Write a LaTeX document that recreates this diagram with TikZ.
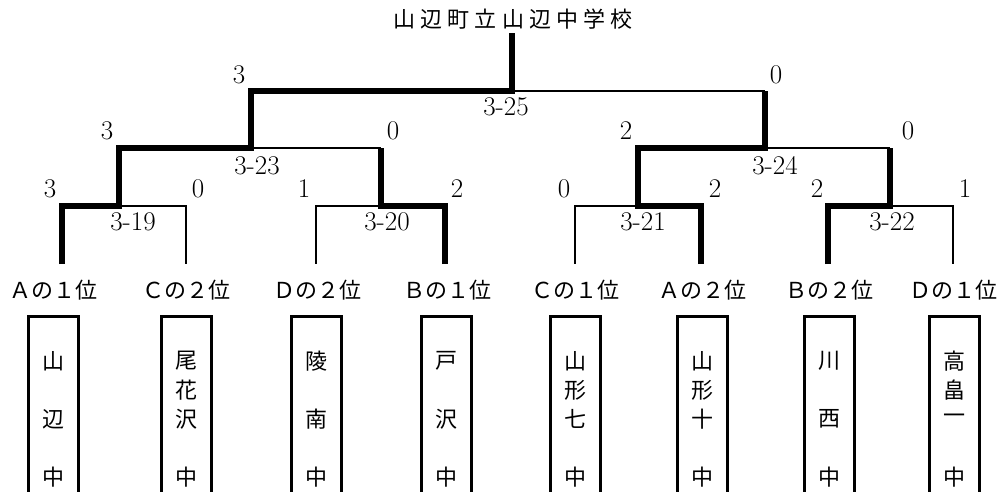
\documentclass[tikz,border=0pt]{standalone}
\usepackage{fontspec}
\newfontfamily\jp{Noto Sans CJK JP}
\newfontfamily\jpwide{Noto Sans CJK JP}[LetterSpace=23]
\begin{document}
\begin{tikzpicture}[x=1pt,y=-1pt,
  thickln/.style={line width=5.5pt,line join=miter},
  thinln/.style={line width=2.8pt},
  score/.style={inner sep=0pt,font=\fontsize{27}{27}\selectfont},
  match/.style={inner sep=0pt,font=\fontsize{27}{27}\selectfont},
  place/.style={inner sep=0pt,font=\jp\fontsize{22}{22}\selectfont},
  sch/.style={inner sep=0pt,font=\jp\fontsize{22}{22}\selectfont},
  schbox/.style={draw,line width=3pt,minimum width=50pt,minimum height=190pt,inner sep=0pt}]
\clip (0,0) rectangle (1005,492);
\fill[white] (0,0) rectangle (1005,492);
% title
\node[inner sep=0pt,font=\jpwide\fontsize{22}{22}\selectfont] (title) at (513,19) {山辺町立山辺中学校};
% coordinates
\foreach \i/\x in {1/62,2/186,3/316,4/445,5/575,6/701,7/828,8/953}{
  \coordinate (L\i) at (\x,264);
  \coordinate (U\i) at (\x,206);
}
\coordinate (m19) at (119,206); \coordinate (a19) at (119,148);
\coordinate (m20) at (381,206); \coordinate (a20) at (381,148);
\coordinate (m21) at (638,206); \coordinate (a21) at (638,148);
\coordinate (m22) at (890,206); \coordinate (a22) at (890,148);
\coordinate (m23) at (251,148); \coordinate (a23) at (251,91);
\coordinate (m24) at (765,148); \coordinate (a24) at (765,91);
\coordinate (m25) at (512,91);  \coordinate (top) at (512,33);
% thick (winner) paths
\draw[thickln] (L1) -- (U1) -- (m19) -- (a19) -- (m23) -- (a23) -- (m25) -- (top);
\draw[thickln] (L4) -- (U4) -- (m20) -- (a20);
\draw[thickln] (L6) -- (U6) -- (m21) -- (a21) -- (m24) -- (a24);
\draw[thickln] (L7) -- (U7) -- (m22) -- (a22);
% thin (loser) paths
\draw[thinln] (m19) -- (U2) -- (L2);
\draw[thinln] (m20) -- (U3) -- (L3);
\draw[thinln] (m21) -- (U5) -- (L5);
\draw[thinln] (m22) -- (U8) -- (L8);
\draw[thinln] (m23) -- (a20);
\draw[thinln] (m24) -- (a22);
\draw[thinln] (m25) -- (a24);
% scores
\node[score] (s1) at (50,189) {3};
\node[score] (s2) at (198,189) {0};
\node[score] (s3) at (304,189) {1};
\node[score] (s4) at (457,189) {2};
\node[score] (s5) at (564,189) {0};
\node[score] (s6) at (715,189) {2};
\node[score] (s7) at (817,189) {2};
\node[score] (s8) at (965,189) {1};
\node[score] (s9) at (107,131) {3};
\node[score] (s10) at (393,131) {0};
\node[score] (s11) at (626,131) {2};
\node[score] (s12) at (908,131) {0};
\node[score] (s13) at (239,75) {3};
\node[score] (s14) at (776,75) {0};
% match numbers
\node[match] (g19) at (133,222) {3-19};
\node[match] (g20) at (387,222) {3-20};
\node[match] (g21) at (643,222) {3-21};
\node[match] (g22) at (892,222) {3-22};
\node[match] (g23) at (257,166) {3-23};
\node[match] (g24) at (775,166) {3-24};
\node[match] (g25) at (506,107) {3-25};
% places
\node[place] (p1) at (53.5,290) {Ａの１位};
\node[place] (p2) at (186,290) {Ｃの２位};
\node[place] (p3) at (317,290) {Ｄの２位};
\node[place] (p4) at (447,290) {Ｂの１位};
\node[place] (p5) at (575,290) {Ｃの１位};
\node[place] (p6) at (702,290) {Ａの２位};
\node[place] (p7) at (829,290) {Ｂの２位};
\node[place] (p8) at (953,290) {Ｄの１位};
% school boxes
\foreach \i/\x in {1/53.5,2/186,3/316,4/446,5/575,6/702.5,7/829.5,8/954}{
  \node[schbox] (box\i) at (\x,411.5) {};
}
% school names
\node[sch] (n1a) at (53.5,361) {山};
\node[sch] (n1b) at (53.5,419) {辺};
\node[sch] (n1c) at (53.5,477) {中};
\node[sch] (n2a) at (186,361) {尾};
\node[sch] (n2b) at (186,390) {花};
\node[sch] (n2c) at (186,419) {沢};
\node[sch] (n2d) at (186,477) {中};
\node[sch] (n3a) at (316,361) {陵};
\node[sch] (n3b) at (316,419) {南};
\node[sch] (n3c) at (316,477) {中};
\node[sch] (n4a) at (446,361) {戸};
\node[sch] (n4b) at (446,419) {沢};
\node[sch] (n4c) at (446,477) {中};
\node[sch] (n5a) at (575,361) {山};
\node[sch] (n5b) at (575,390) {形};
\node[sch] (n5c) at (575,419) {七};
\node[sch] (n5d) at (575,477) {中};
\node[sch] (n6a) at (702.5,361) {山};
\node[sch] (n6b) at (702.5,390) {形};
\node[sch] (n6c) at (702.5,419) {十};
\node[sch] (n6d) at (702.5,477) {中};
\node[sch] (n7a) at (829.5,361) {川};
\node[sch] (n7b) at (829.5,419) {西};
\node[sch] (n7c) at (829.5,477) {中};
\node[sch] (n8a) at (954,361) {高};
\node[sch] (n8b) at (954,390) {畠};
\node[sch] (n8c) at (954,419) {一};
\node[sch] (n8d) at (954,477) {中};
\end{tikzpicture}
\end{document}
